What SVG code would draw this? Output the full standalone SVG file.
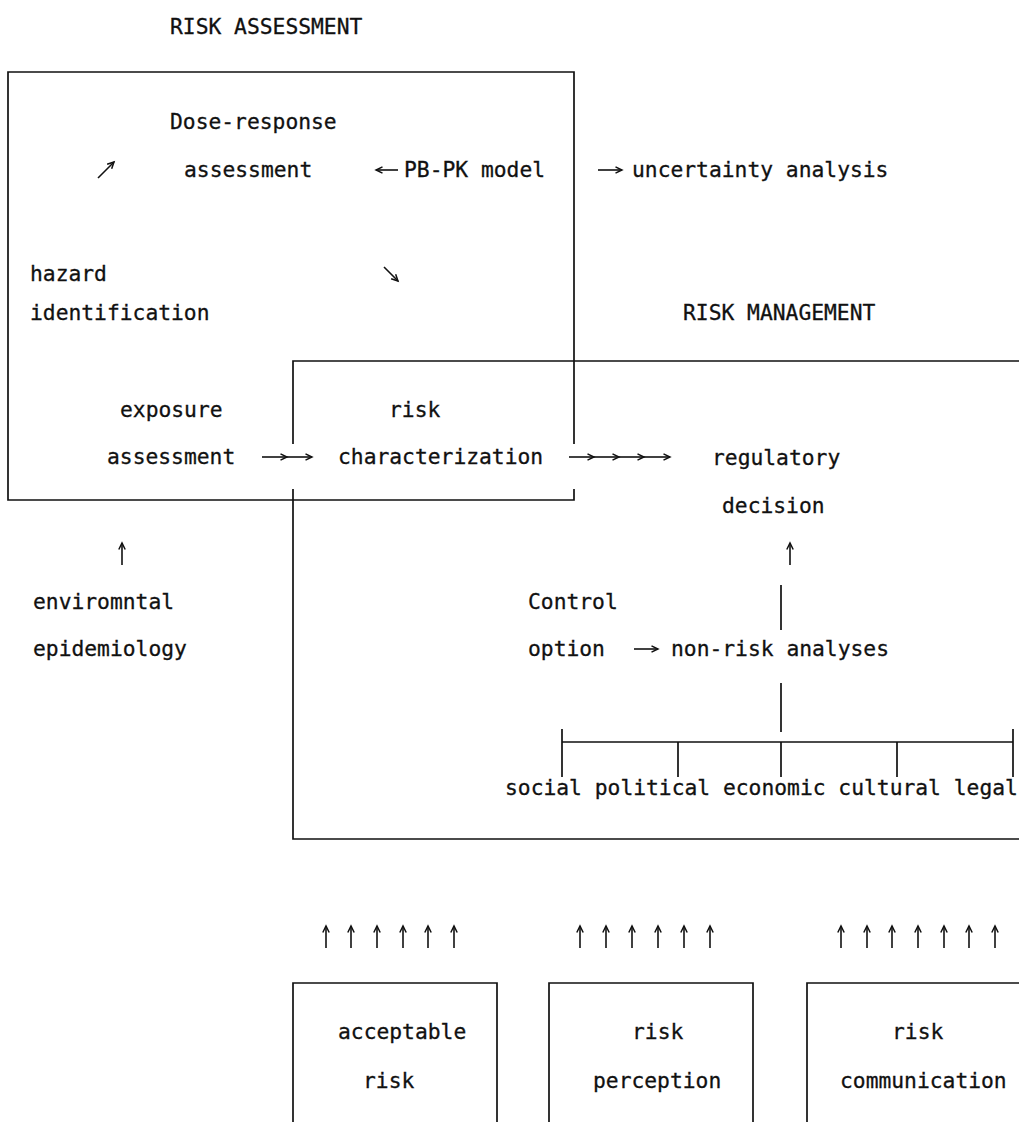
<svg xmlns="http://www.w3.org/2000/svg" width="1019" height="1122" viewBox="0 0 1019 1122">
<style>
text{font-family:"DejaVu Sans Mono","Liberation Mono",monospace;font-size:21.3px;fill:#111;stroke:#111;stroke-width:0.3}
.ln{fill:none;stroke:#111;stroke-width:1.7}
.ar{fill:none;stroke:#111;stroke-width:1.6;marker-end:url(#ah)}
</style>
<defs>
<marker id="ah" markerUnits="userSpaceOnUse" markerWidth="10" markerHeight="10" refX="7.5" refY="4" orient="auto">
<path d="M1,0.8 L7.5,4 L1,7.2" fill="none" stroke="#111" stroke-width="1.5"/>
</marker>
</defs>
<rect width="1019" height="1122" fill="#fff"/>

<g id="frames">
<path class="ln" d="M574,444 V72 H8 V500 H574 V489"/>
<path class="ln" d="M293,444 V361 H1019 M293,489 V839 H1019"/>
<path class="ln" d="M293,1122 V983 H497 V1122"/>
<path class="ln" d="M549,1122 V983 H753 V1122"/>
<path class="ln" d="M807,1122 V983 H1019"/>
</g>

<g id="titles">
<text x="170" y="34">RISK ASSESSMENT</text>
<text x="683" y="320">RISK MANAGEMENT</text>
</g>

<g id="dose-response"><text x="170" y="129">Dose-response</text><text x="184" y="177">assessment</text></g>
<g id="pbpk"><text x="404" y="177">PB-PK model</text></g>
<g id="uncertainty"><text x="632" y="177">uncertainty analysis</text></g>
<g id="hazard"><text x="30" y="281">hazard</text><text x="30" y="320">identification</text></g>
<g id="exposure"><text x="120" y="417">exposure</text><text x="107" y="464">assessment</text></g>
<g id="risk-char"><text x="389" y="417">risk</text><text x="338" y="464">characterization</text></g>
<g id="regulatory"><text x="712" y="465">regulatory</text><text x="722" y="513">decision</text></g>
<g id="epi"><text x="33" y="609">enviromntal</text><text x="33" y="656">epidemiology</text></g>
<g id="control"><text x="528" y="609">Control</text><text x="528" y="656">option</text></g>
<g id="nonrisk"><text x="671" y="656">non-risk analyses</text></g>
<g id="factors"><text x="505" y="795">social political economic cultural legal</text></g>
<g id="acceptable"><text x="338" y="1039">acceptable</text><text x="363" y="1088">risk</text></g>
<g id="perception"><text x="632" y="1039">risk</text><text x="593" y="1088">perception</text></g>
<g id="communication"><text x="892" y="1039">risk</text><text x="840" y="1088">communication</text></g>

<g id="connectors">
<line class="ar" x1="98" y1="178" x2="114" y2="162"/>
<line class="ar" x1="398" y1="170" x2="376" y2="170"/>
<line class="ar" x1="598" y1="170" x2="622" y2="170"/>
<line class="ar" x1="384" y1="267" x2="398" y2="281"/>
<line class="ar" x1="262" y1="457" x2="287" y2="457"/>
<line class="ar" x1="287" y1="457" x2="312" y2="457"/>
<line class="ar" x1="569" y1="457" x2="594" y2="457"/>
<line class="ar" x1="594" y1="457" x2="619" y2="457"/>
<line class="ar" x1="619" y1="457" x2="644" y2="457"/>
<line class="ar" x1="644" y1="457" x2="670" y2="457"/>
<line class="ar" x1="790" y1="565" x2="790" y2="543"/>
<line class="ar" x1="122" y1="565" x2="122" y2="543"/>
<line class="ar" x1="634" y1="649" x2="658" y2="649"/>
<path class="ln" d="M781,585 V630 M781,683 V732 M562,742 H1013 M562,729 V777 M678,742 V777 M781,742 V777 M897,742 V777 M1013,729 V777"/>
<g id="up-acceptable">
<line class="ar" x1="326" y1="948" x2="326" y2="926"/><line class="ar" x1="351" y1="948" x2="351" y2="926"/><line class="ar" x1="377" y1="948" x2="377" y2="926"/><line class="ar" x1="403" y1="948" x2="403" y2="926"/><line class="ar" x1="428" y1="948" x2="428" y2="926"/><line class="ar" x1="454" y1="948" x2="454" y2="926"/>
</g>
<g id="up-perception">
<line class="ar" x1="580" y1="948" x2="580" y2="926"/><line class="ar" x1="606" y1="948" x2="606" y2="926"/><line class="ar" x1="632" y1="948" x2="632" y2="926"/><line class="ar" x1="658" y1="948" x2="658" y2="926"/><line class="ar" x1="684" y1="948" x2="684" y2="926"/><line class="ar" x1="710" y1="948" x2="710" y2="926"/>
</g>
<g id="up-communication">
<line class="ar" x1="841" y1="948" x2="841" y2="926"/><line class="ar" x1="867" y1="948" x2="867" y2="926"/><line class="ar" x1="892" y1="948" x2="892" y2="926"/><line class="ar" x1="918" y1="948" x2="918" y2="926"/><line class="ar" x1="944" y1="948" x2="944" y2="926"/><line class="ar" x1="969" y1="948" x2="969" y2="926"/><line class="ar" x1="995" y1="948" x2="995" y2="926"/>
</g>
</g>
</svg>
